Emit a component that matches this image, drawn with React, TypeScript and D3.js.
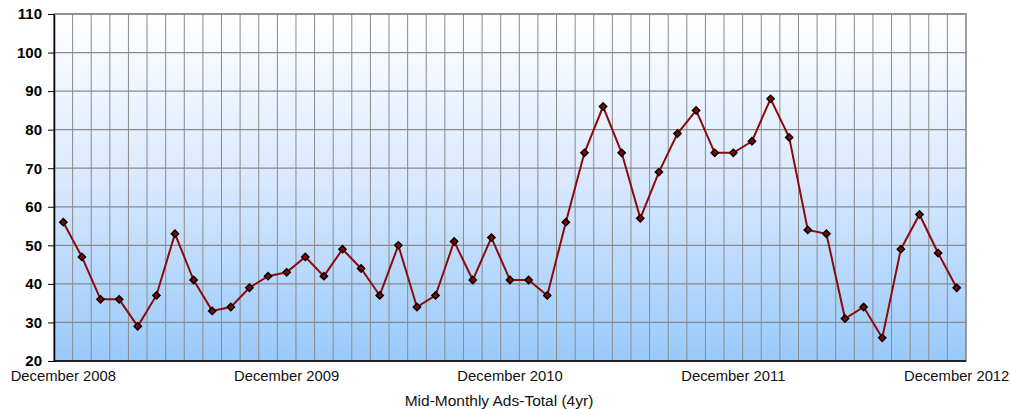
import React, { useEffect, useRef } from "react";
import * as d3 from "d3";

const values = [
  56, 47, 36, 36, 29, 37, 53, 41, 33, 34, 39, 42, 43, 47, 42, 49, 44, 37, 50,
  34, 37, 51, 41, 52, 41, 41, 37, 56, 74, 86, 74, 57, 69, 79, 85, 74, 74, 77,
  88, 78, 54, 53, 31, 34, 26, 49, 58, 48, 39,
];
const xLabels = [
  { index: 0, text: "December 2008" },
  { index: 12, text: "December 2009" },
  { index: 24, text: "December 2010" },
  { index: 36, text: "December 2011" },
  { index: 48, text: "December 2012" },
];
const yTicks = [20, 30, 40, 50, 60, 70, 80, 90, 100, 110];
const title = "Mid-Monthly Ads-Total (4yr)";

function drawChart(container: HTMLDivElement) {
  d3.select(container).selectAll("*").remove();

  const W = 1011;
  const H = 409;
  const margin = { top: 14, right: 45, bottom: 48, left: 54 };
  const width = W - margin.left - margin.right;
  const height = H - margin.top - margin.bottom;

  const root = d3
    .select(container)
    .append("svg")
    .attr("width", W)
    .attr("height", H)
    .style("display", "block")
    .style("font-family", "Arial, 'Liberation Sans', sans-serif");

  const defs = root.append("defs");
  const grad = defs
    .append("linearGradient")
    .attr("id", "bg-grad")
    .attr("x1", 0)
    .attr("y1", 0)
    .attr("x2", 0)
    .attr("y2", 1);
  grad.append("stop").attr("offset", "0%").attr("stop-color", "#ffffff");
  grad.append("stop").attr("offset", "45%").attr("stop-color", "#dceaff");
  grad.append("stop").attr("offset", "100%").attr("stop-color", "#98c9fa");

  const svg = root
    .append("g")
    .attr("transform", `translate(${margin.left},${margin.top})`);

  const x = d3
    .scaleBand<number>()
    .domain(d3.range(values.length))
    .range([0, width]);
  const y = d3.scaleLinear().domain([20, 110]).range([height, 0]);
  const cx = (i: number) => (x(i) as number) + x.bandwidth() / 2;

  // plot background
  svg
    .append("rect")
    .attr("width", width)
    .attr("height", height)
    .attr("fill", "url(#bg-grad)");

  // vertical grid lines at band edges
  svg
    .selectAll("line.vgrid")
    .data(d3.range(1, values.length))
    .enter()
    .append("line")
    .attr("class", "vgrid")
    .attr("x1", (i) => x(i) as number)
    .attr("x2", (i) => x(i) as number)
    .attr("y1", 0)
    .attr("y2", height)
    .attr("stroke", "#8a8a8a")
    .attr("stroke-width", 1);

  // horizontal grid lines
  svg
    .selectAll("line.hgrid")
    .data(yTicks)
    .enter()
    .append("line")
    .attr("class", "hgrid")
    .attr("x1", 0)
    .attr("x2", width)
    .attr("y1", (d) => y(d))
    .attr("y2", (d) => y(d))
    .attr("stroke", "#8a8a8a")
    .attr("stroke-width", 1.2);

  // border (top/right gray)
  svg
    .append("rect")
    .attr("width", width)
    .attr("height", height)
    .attr("fill", "none")
    .attr("stroke", "#808080")
    .attr("stroke-width", 1.5);

  // y axis
  const yAxis = svg
    .append("g")
    .call(d3.axisLeft(y).tickValues(yTicks).tickSize(6).tickSizeOuter(0));
  yAxis.select(".domain").attr("stroke", "#000").attr("stroke-width", 1.5);
  yAxis.selectAll(".tick line").attr("stroke", "#000");
  yAxis
    .selectAll(".tick text")
    .attr("fill", "#000")
    .style("font-size", "15px")
    .style("font-weight", "bold")
    .attr("x", -12);

  // x axis baseline
  svg
    .append("line")
    .attr("x1", 0)
    .attr("x2", width)
    .attr("y1", height)
    .attr("y2", height)
    .attr("stroke", "#000")
    .attr("stroke-width", 1.5);

  // x labels
  svg
    .selectAll("text.xlab")
    .data(xLabels)
    .enter()
    .append("text")
    .attr("class", "xlab")
    .attr("x", (d) => cx(d.index))
    .attr("y", height + 20)
    .attr("text-anchor", "middle")
    .style("font-size", "14.8px")
    .attr("fill", "#111")
    .text((d) => d.text);

  // title
  svg
    .append("text")
    .attr("x", width / 2 - 11)
    .attr("y", height + 45)
    .attr("text-anchor", "middle")
    .style("font-size", "15.5px")
    .attr("fill", "#111")
    .text(title);

  // line
  const line = d3
    .line<number>()
    .x((_, i) => cx(i))
    .y((d) => y(d));
  svg
    .append("path")
    .datum(values)
    .attr("fill", "none")
    .attr("stroke", "#8b0a0a")
    .attr("stroke-width", 2)
    .attr("d", line);

  // markers: square rotated 45 degrees
  const marker = d3.symbol().type(d3.symbolSquare).size(26);
  svg
    .selectAll("path.marker")
    .data(values)
    .enter()
    .append("path")
    .attr("class", "marker")
    .attr("transform", (d, i) => `translate(${cx(i)},${y(d)}) rotate(45)`)
    .attr("d", marker)
    .attr("fill", "#8b0000")
    .attr("stroke", "#000")
    .attr("stroke-width", 1.5);
}

export default function App() {
  const ref = useRef<HTMLDivElement>(null);
  useEffect(() => {
    if (ref.current) drawChart(ref.current);
  }, []);
  return <div ref={ref} style={{ position: "absolute", left: 0, top: 0 }} />;
}
